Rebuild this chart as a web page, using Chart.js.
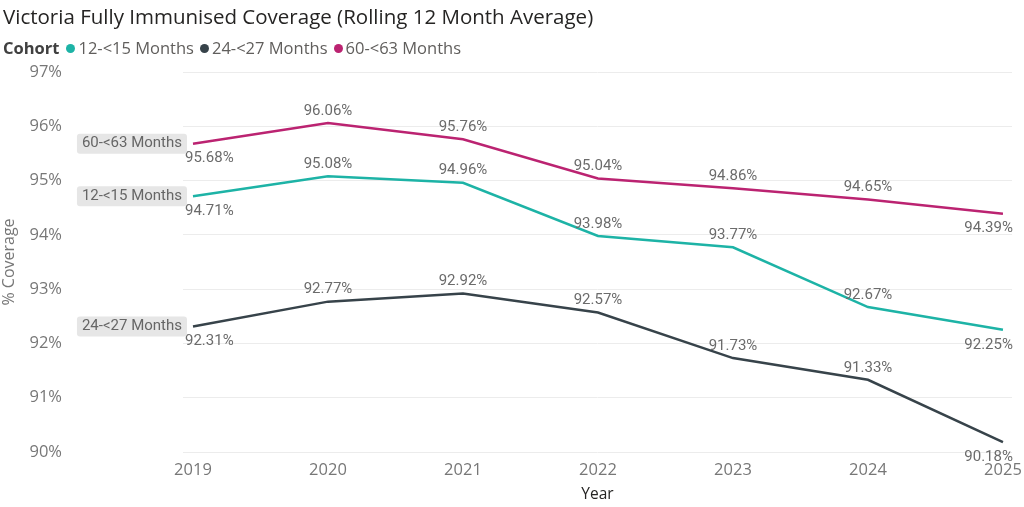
<!DOCTYPE html>
<html>
<head>
<meta charset="utf-8">
<script src="https://cdn.jsdelivr.net/npm/chart.js@4.4.1/dist/chart.umd.min.js"></script>
<style>
  body { margin: 0; background: #fff; font-family: "Open Sans", "Noto Sans", sans-serif; }
  #wrap { position: relative; width: 1024px; height: 507px; }
  #title { position: absolute; left: 3px; top: 2px; font-size: 20.5px; color: #252423; white-space: nowrap; }
  #legend { position: absolute; left: 3px; top: 36px; font-size: 16.5px; color: #605e5c; white-space: nowrap; }
  #legend b { color: #404040; margin-right: 1px; }
  #legend .dot { display: inline-block; width: 9px; height: 9px; border-radius: 50%; margin: 0 3px 2px 6px; vertical-align: middle; }
  canvas { position: absolute; left: 0; top: 0; }
</style>
</head>
<body>
<div id="wrap">
  <canvas id="lineChart" width="1024" height="507"></canvas>
  <div id="title">Victoria Fully Immunised Coverage (Rolling 12 Month Average)</div>
  <div id="legend"></div>
</div>
<script>
var years = [2019, 2020, 2021, 2022, 2023, 2024, 2025];
var cohorts = ["12-<15 Months", "24-<27 Months", "60-<63 Months"];
var cohort12 = [94.71, 95.08, 94.96, 93.98, 93.77, 92.67, 92.25];
var cohort24 = [92.31, 92.77, 92.92, 92.57, 91.73, 91.33, 90.18];
var cohort60 = [95.68, 96.06, 95.76, 95.04, 94.86, 94.65, 94.39];
var lineColors = ["#1db3a6", "#37434a", "#bb2371"];

var legend = document.getElementById("legend");
legend.innerHTML = "<b>Cohort</b>" + cohorts.map(function (c, i) {
    return '<span class="dot" style="background:' + lineColors[i] + '"></span>' +
        c.replace(/</g, "&lt;");
}).join("");

// value labels (below at the ends, above elsewhere) + series name box at the start
var valueLabels = {
    id: "valueLabels",
    afterDatasetsDraw: function (chart) {
        var ctx = chart.ctx;
        ctx.save();
        chart.data.datasets.forEach(function (ds, di) {
            var meta = chart.getDatasetMeta(di);
            var last = meta.data.length - 1;
            ctx.font = "15px Roboto";
            ctx.textBaseline = "middle";
            ctx.fillStyle = "#6b6b6b";
            meta.data.forEach(function (pt, i) {
                var txt = ds.data[i].y.toFixed(2) + "%";
                if (i === 0) {
                    ctx.textAlign = "left";
                    ctx.fillText(txt, pt.x - 8, pt.y + 15);
                } else if (i === last) {
                    ctx.textAlign = "right";
                    ctx.fillText(txt, pt.x + 10, pt.y + 15);
                } else {
                    ctx.textAlign = "center";
                    ctx.fillText(txt, pt.x, pt.y - 12);
                }
            });
            var first = meta.data[0];
            var w = ctx.measureText(ds.label).width + 10;
            ctx.fillStyle = "#e6e6e6";
            ctx.beginPath();
            ctx.roundRect(first.x - 6 - w, first.y - 10, w, 20, 3);
            ctx.fill();
            ctx.fillStyle = "#666666";
            ctx.textAlign = "right";
            ctx.fillText(ds.label, first.x - 11, first.y);
        });
        ctx.restore();
    }
};

function toPoints(vals) {
    return vals.map(function (v, i) { return { x: years[i], y: v }; });
}

new Chart("lineChart", {
    type: "line",
    data: {
        datasets: [
            { label: cohorts[2], data: toPoints(cohort60), borderColor: lineColors[2] },
            { label: cohorts[0], data: toPoints(cohort12), borderColor: lineColors[0] },
            { label: cohorts[1], data: toPoints(cohort24), borderColor: lineColors[1] }
        ]
    },
    options: {
        responsive: false,
        animation: false,
        layout: { padding: { top: 72, right: 12, left: 0, bottom: 0 } },
        elements: {
            line: { borderWidth: 2.5, tension: 0 },
            point: { radius: 0 }
        },
        plugins: {
            legend: { display: false },
            tooltip: { enabled: false }
        },
        scales: {
            x: {
                type: "linear",
                min: 2018.926,
                max: 2025.067,
                grid: { display: false },
                border: { display: false },
                afterBuildTicks: function (scale) {
                    scale.ticks = years.map(function (y) { return { value: y }; });
                },
                afterFit: function (scale) { scale.height = 55; },
                ticks: {
                    padding: 0,
                    maxRotation: 0,
                    color: "#777777",
                    font: { family: "Open Sans", size: 16.5 },
                    callback: function (v) { return String(v); }
                },
                title: {
                    display: true,
                    text: "Year",
                    color: "#252423",
                    font: { family: "Open Sans", size: 15.5 },
                    padding: { top: 0, bottom: 3 }
                }
            },
            y: {
                min: 90,
                max: 97,
                grid: { color: "#ececec", lineWidth: 1, drawTicks: false },
                border: { display: false },
                afterFit: function (scale) {
                    scale.width = 183;
                    scale.paddingTop = 8;
                    scale.paddingBottom = 8;
                },
                ticks: {
                    stepSize: 1,
                    padding: 121,
                    color: "#777777",
                    font: { family: "Open Sans", size: 16.5 },
                    callback: function (v) { return v + "%"; }
                },
                title: {
                    display: true,
                    text: "% Coverage",
                    color: "#777777",
                    font: { family: "Open Sans", size: 16 },
                    padding: 0
                }
            }
        }
    },
    plugins: [valueLabels]
});
</script>
</body>
</html>
